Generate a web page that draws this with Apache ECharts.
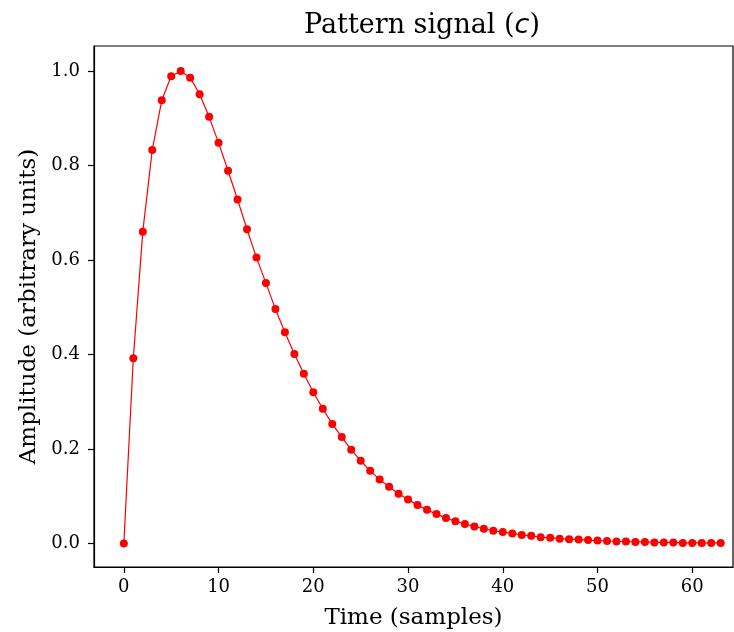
<!DOCTYPE html>
<html>
<head>
<meta charset="utf-8">
<script src="https://cdn.jsdelivr.net/npm/echarts@6/dist/echarts.min.js"></script>
<style>
  html, body { margin: 0; padding: 0; background: #fff; }
  #chart { width: 734px; height: 632px; }
</style>
</head>
<body>
<div id="chart"></div>
<script>
// sample index 0..63
var samples = [];
for (var i = 0; i < 64; i++) samples.push(i);

// amplitude
var amplitude = [
  0.000, 0.392, 0.660, 0.833, 0.938, 0.989, 1.000, 0.986, 0.951, 0.903,
  0.848, 0.789, 0.728, 0.665, 0.605, 0.551, 0.496, 0.447, 0.401, 0.359,
  0.320, 0.285, 0.253, 0.225, 0.198, 0.175, 0.154, 0.135, 0.120, 0.105,
  0.093, 0.081, 0.071, 0.062, 0.054, 0.047, 0.041, 0.036, 0.031, 0.027,
  0.024, 0.021, 0.018, 0.016, 0.013, 0.012, 0.010, 0.009, 0.008, 0.007,
  0.006, 0.005, 0.004, 0.004, 0.003, 0.003, 0.002, 0.002, 0.002, 0.001,
  0.001, 0.001, 0.001, 0.001
];

var xTicks = [0, 10, 20, 30, 40, 50, 60];
var yTicks = [0, 0.2, 0.4, 0.6, 0.8, 1.0];

var font = 'DejaVu Serif';
var chart = echarts.init(document.getElementById('chart'));

chart.setOption({
  animation: false,
  backgroundColor: '#fff',
  title: {
    text: '{a|Pattern signal (}{b|c}{a|)}',
    left: 299,
    top: 7,
    textStyle: {
      fontWeight: 'normal',
      rich: {
        a: { fontFamily: font, fontSize: 27, fontWeight: 'normal', color: '#000' },
        b: { fontFamily: 'DejaVu Sans', fontStyle: 'italic', fontWeight: 'normal', fontSize: 27, color: '#000' }
      }
    }
  },
  grid: {
    left: 94, right: 1, top: 46, bottom: 65,
    outerBoundsMode: 'none',
    containLabel: false,
    show: true, borderColor: '#000', borderWidth: 1.2
  },
  xAxis: {
    type: 'value',
    min: -3.15,
    max: 64.3,
    name: 'Time (samples)',
    nameLocation: 'middle',
    nameGap: 40,
    nameTextStyle: { fontFamily: font, fontSize: 23, color: '#000' },
    axisLine: { show: true, onZero: false, lineStyle: { color: '#000', width: 1.2 } },
    axisTick: { show: true, length: 6, lineStyle: { color: '#000', width: 1.2 }, customValues: xTicks },
    axisLabel: { fontFamily: font, fontSize: 18, color: '#000', margin: 11, customValues: xTicks },
    splitLine: { show: false }
  },
  yAxis: {
    type: 'value',
    min: -0.05,
    max: 1.053,
    name: 'Amplitude (arbitrary units)',
    nameLocation: 'middle',
    nameGap: 53,
    nameTextStyle: { fontFamily: font, fontSize: 23, color: '#000' },
    axisLine: { show: true, onZero: false, lineStyle: { color: '#000', width: 1.2 } },
    axisTick: { show: true, length: 6, lineStyle: { color: '#000', width: 1.2 }, customValues: yTicks },
    axisLabel: {
      fontFamily: font, fontSize: 18, color: '#000', margin: 14, customValues: yTicks,
      formatter: function (v) { return v.toFixed(1); }
    },
    splitLine: { show: false }
  },
  series: [{
    type: 'line',
    data: samples.map(function (t, k) { return [t, amplitude[k]]; }),
    symbol: 'circle',
    symbolSize: 8,
    showAllSymbol: true,
    lineStyle: { color: '#ff0000', width: 1.2 },
    itemStyle: { color: '#ff0000' }
  }]
});
</script>
</body>
</html>
